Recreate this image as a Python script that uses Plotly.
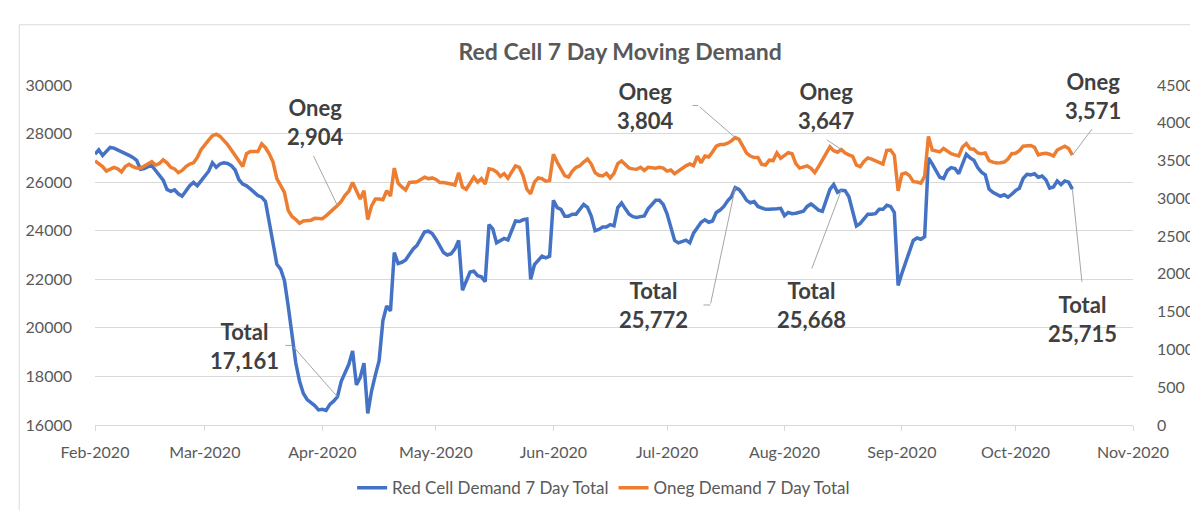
import pandas as pd
import plotly.graph_objects as go

# ---------------- data ----------------
start_date = "2020-02-01"

total_demand = [
    27150, 27330, 27100, 27250, 27430, 27400, 27330,
    27270, 27180, 27100, 27020, 26900, 26530, 26560,
    26640, 26680, 26480, 26300, 26080, 25700, 25620,
    25680, 25520, 25420, 25620, 25850, 25990, 25850,
    26050, 26250, 26450, 26800, 26610, 26750, 26800,
    26770, 26680, 26500, 26100, 25920, 25850, 25720,
    25580, 25450, 25380, 25200, 24350, 23500, 22620,
    22420, 21950, 20900, 19600, 18550, 17800, 17300,
    17050, 16920, 16800, 16620, 16650, 16600, 16850,
    16980, 17161, 17800, 18150, 18500, 19050, 17650,
    17950, 18550, 16480, 17400, 18050, 18650, 20300,
    20900, 20700, 23100, 22650, 22700, 22800, 23050,
    23250, 23400, 23700, 23950, 23980, 23880, 23650,
    23350, 23100, 23000, 23050, 23250, 23600, 21550,
    21900, 22300, 22330, 22150, 22100, 21900, 24250,
    24080, 23500, 23600, 23680, 23620, 24000, 24400,
    24380, 24450, 24480, 22000, 22600, 22800, 22950,
    22880, 22950, 25250, 24950, 24880, 24600, 24600,
    24680, 24680, 24900, 25080, 24960, 24600, 24000,
    24050, 24150, 24150, 24250, 24200, 24950, 25140,
    24900, 24680, 24580, 24550, 24580, 24610, 24900,
    25100, 25250, 25250, 25080, 24700, 24100, 23600,
    23500, 23560, 23610, 23500, 23900, 24120, 24350,
    24450, 24350, 24400, 24750, 24850, 25000, 25230,
    25400, 25772, 25700, 25500, 25250, 25150, 25200,
    25000, 24950, 24880, 24880, 24880, 24900, 24920,
    24620, 24750, 24700, 24720, 24750, 24800, 25000,
    25100, 24980, 24850, 24800, 25300, 25700, 25900,
    25580, 25668, 25650, 25400, 24750, 24200, 24300,
    24520, 24680, 24680, 24700, 24880, 24880, 25050,
    25000, 24750, 21750, 22250, 22700, 23150, 23600,
    23700, 23650, 23750, 27000, 26750, 26450, 26200,
    26150, 26480, 26600, 26560, 26350, 26800, 27150,
    27000, 26900, 26600, 26410, 26300, 25720, 25580,
    25500, 25420, 25480, 25380, 25500, 25650, 25750,
    26150, 26320, 26300, 26350, 26200, 26250, 26100,
    25750, 25800, 26050, 25900, 26050, 26000, 25715,
]

oneg_demand = [
    3497, 3460, 3420, 3360, 3380, 3410, 3390,
    3350, 3420, 3450, 3420, 3400, 3398, 3430,
    3450, 3484, 3440, 3460, 3510, 3470, 3410,
    3390, 3340, 3370, 3420, 3454, 3470, 3540,
    3645, 3700, 3770, 3830, 3850, 3820, 3770,
    3710, 3640, 3560, 3480, 3420, 3590, 3620,
    3620, 3620, 3720, 3670, 3590, 3480, 3262,
    3170, 3080, 2840, 2760, 2720, 2670, 2700,
    2705, 2711, 2735, 2730, 2730, 2768, 2820,
    2860, 2904, 2960, 3040, 3095, 3210, 3100,
    2990, 3100, 2720, 2900, 2990, 2990, 2980,
    3100, 3030, 3400, 3200, 3150, 3111, 3210,
    3215, 3220, 3250, 3280, 3260, 3270, 3250,
    3210, 3210, 3205, 3190, 3176, 3340, 3150,
    3120, 3200, 3280, 3215, 3261, 3190, 3390,
    3380, 3350, 3290, 3326, 3265, 3350, 3430,
    3410, 3300, 3120, 3060, 3215, 3270, 3260,
    3227, 3235, 3583, 3480, 3400, 3300, 3280,
    3360, 3410, 3430, 3480, 3520, 3454, 3340,
    3305, 3296, 3330, 3270, 3330, 3460, 3495,
    3440, 3400, 3390, 3385, 3411, 3370, 3411,
    3400, 3398, 3410, 3400, 3360, 3375, 3326,
    3360, 3400, 3430, 3454, 3433, 3560, 3470,
    3560, 3548, 3613, 3690, 3711, 3711, 3730,
    3760, 3804, 3780, 3690, 3600, 3560, 3540,
    3540, 3450, 3440, 3505, 3500, 3600, 3530,
    3570, 3604, 3590, 3460, 3400, 3410, 3430,
    3398, 3340, 3420, 3510, 3595, 3680, 3630,
    3610, 3647, 3600, 3575, 3555, 3440, 3420,
    3490, 3535, 3520, 3500, 3470, 3454, 3635,
    3640, 3570, 3100, 3320, 3335, 3300, 3220,
    3215, 3200, 3290, 3820, 3640, 3626, 3615,
    3660, 3620, 3590, 3575, 3561, 3680, 3725,
    3656, 3650, 3600, 3590, 3600, 3500, 3480,
    3467, 3470, 3480, 3520, 3590, 3596, 3630,
    3690, 3697, 3699, 3675, 3575, 3590, 3595,
    3583, 3560, 3640, 3665, 3690, 3660, 3571,
]

month_ticks = ["2020-02-01", "2020-03-01", "2020-04-01", "2020-05-01", "2020-06-01",
               "2020-07-01", "2020-08-01", "2020-09-01", "2020-10-01", "2020-11-01"]
month_labels = ["Feb-2020", "Mar-2020", "Apr-2020", "May-2020", "Jun-2020",
                "Jul-2020", "Aug-2020", "Sep-2020", "Oct-2020", "Nov-2020"]

left_ticks = [16000, 18000, 20000, 22000, 24000, 26000, 28000, 30000]
right_ticks = [0, 500, 1000, 1500, 2000, 2500, 3000, 3500, 4000, 4500]

callout_dates = ["2020-04-05", "2020-07-19", "2020-08-16", "2020-10-16"]
callout_total = [17161, 25772, 25668, 25715]
callout_oneg = [2904, 3804, 3647, 3571]

series_names = ["Red Cell Demand 7 Day Total", "Oneg Demand 7 Day Total"]
title_text = "Red Cell 7 Day Moving Demand"

dates = pd.date_range(start_date, periods=len(total_demand), freq="D")

# ---------------- styling ----------------
FONT = "Lato"
BLUE = "#4472C4"
ORANGE = "#ED7D31"
GRID = "#D9D9D9"
AXTXT = "#595959"
LBL = "#404040"
LEADER = "#A6A6A6"

fig = go.Figure()
fig.add_trace(go.Scatter(x=dates, y=total_demand, name=series_names[0], mode="lines",
                         line=dict(color=BLUE, width=3.5), yaxis="y"))
fig.add_trace(go.Scatter(x=dates, y=oneg_demand, name=series_names[1], mode="lines",
                         line=dict(color=ORANGE, width=3.5), yaxis="y2"))

fig.update_layout(
    width=1198, height=510,
    margin=dict(l=87, r=56, t=77, b=83),
    paper_bgcolor="white", plot_bgcolor="white",
    font=dict(family=FONT, color=AXTXT, size=16),
    title=dict(text="<b>" + title_text + "</b>", x=0.511, xanchor="center",
               y=1 - 44 / 510, yanchor="middle", font=dict(size=23, color=AXTXT, family=FONT)),
    showlegend=True,
    legend=dict(orientation="h", x=0.49, xanchor="center", y=-0.186, yanchor="middle",
                font=dict(size=17, color=AXTXT, family=FONT), bgcolor="rgba(0,0,0,0)",
                itemwidth=30),
    xaxis=dict(type="date", range=[month_ticks[0], month_ticks[-1]],
               tickvals=month_ticks, ticktext=month_labels,
               showgrid=False, showline=True, linecolor=GRID, linewidth=1,
               ticks="outside", ticklen=5, tickcolor=GRID, tickwidth=1,
               ticklabelstandoff=8, tickfont=dict(size=16, color=AXTXT)),
    yaxis=dict(range=[16000, 30000], tickvals=left_ticks, tickformat="d",
               showgrid=True, gridcolor=GRID, gridwidth=1, zeroline=False,
               showline=False, ticks="", ticklabelstandoff=22,
               tickfont=dict(size=16, color=AXTXT)),
    yaxis2=dict(range=[0, 4500], tickvals=right_ticks, tickformat="d",
                overlaying="y", side="right", showgrid=False, zeroline=False,
                showline=False, ticks="", ticklabelstandoff=23,
                tickfont=dict(size=16, color=AXTXT)),
)

# outer chart border (top and left edges visible in the reference)
fig.add_shape(type="rect", xref="paper", yref="paper",
              x0=(10 - 87) / 1055, x1=(1210 - 87) / 1055,
              y0=(427 - 520) / 350, y1=(427 - 15) / 350,
              line=dict(color=GRID, width=1), fillcolor="rgba(0,0,0,0)", layer="below")


def callout(xv, yv, yref, label, text_off, pts):
    # text block (pixel offset from the data point: dx right, dy down)
    fig.add_annotation(x=xv, y=yv, xref="x", yref=yref, text=label, showarrow=False,
                       xshift=text_off[0], yshift=-text_off[1], xanchor="center",
                       yanchor="middle", align="center",
                       font=dict(family=FONT, size=22, color=LBL))
    # leader line made of straight segments
    for (x0, y0), (x1, y1) in zip(pts[:-1], pts[1:]):
        fig.add_annotation(x=xv, y=yv, xref="x", yref=yref, text="", showarrow=True,
                           arrowhead=0, arrowwidth=1, arrowcolor=LEADER,
                           xshift=x0, yshift=-y0, ax=x1 - x0, ay=y1 - y0,
                           standoff=0, startstandoff=0, font=dict(size=1))


oneg_text_off = [(-22.6, -84), (-90.2, -31.6), (-15.5, -43.8), (20.5, -59.3)]
oneg_leaders = [[(0, 0), (-24.6, -51)],
                [(0, 0), (-37.2, -32.1), (-44.2, -32.1)],
                [(0, 0), (-16, -10.6)],
                [(0, 0), (20.7, -27.6)]]
total_text_off = [(-92.6, -50.6), (-82.2, 117.3), (-30, 114.7), (10, 129.5)]
total_leaders = [[(0, 0), (-45.3, -51.4), (-53.6, -51.4)],
                 [(0, 0), (-24.9, 117.3), (-33.2, 117.3)],
                 [(0, 0), (-30, 79.7)],
                 [(0, 0), (9.7, 94.3)]]

for i, d in enumerate(callout_dates):
    callout(d, callout_oneg[i], "y2", "<b>Oneg<br>{:,}</b>".format(callout_oneg[i]),
            oneg_text_off[i], oneg_leaders[i])
    callout(d, callout_total[i], "y", "<b>Total<br>{:,}</b>".format(callout_total[i]),
            total_text_off[i], total_leaders[i])

fig.write_html("out.html")
